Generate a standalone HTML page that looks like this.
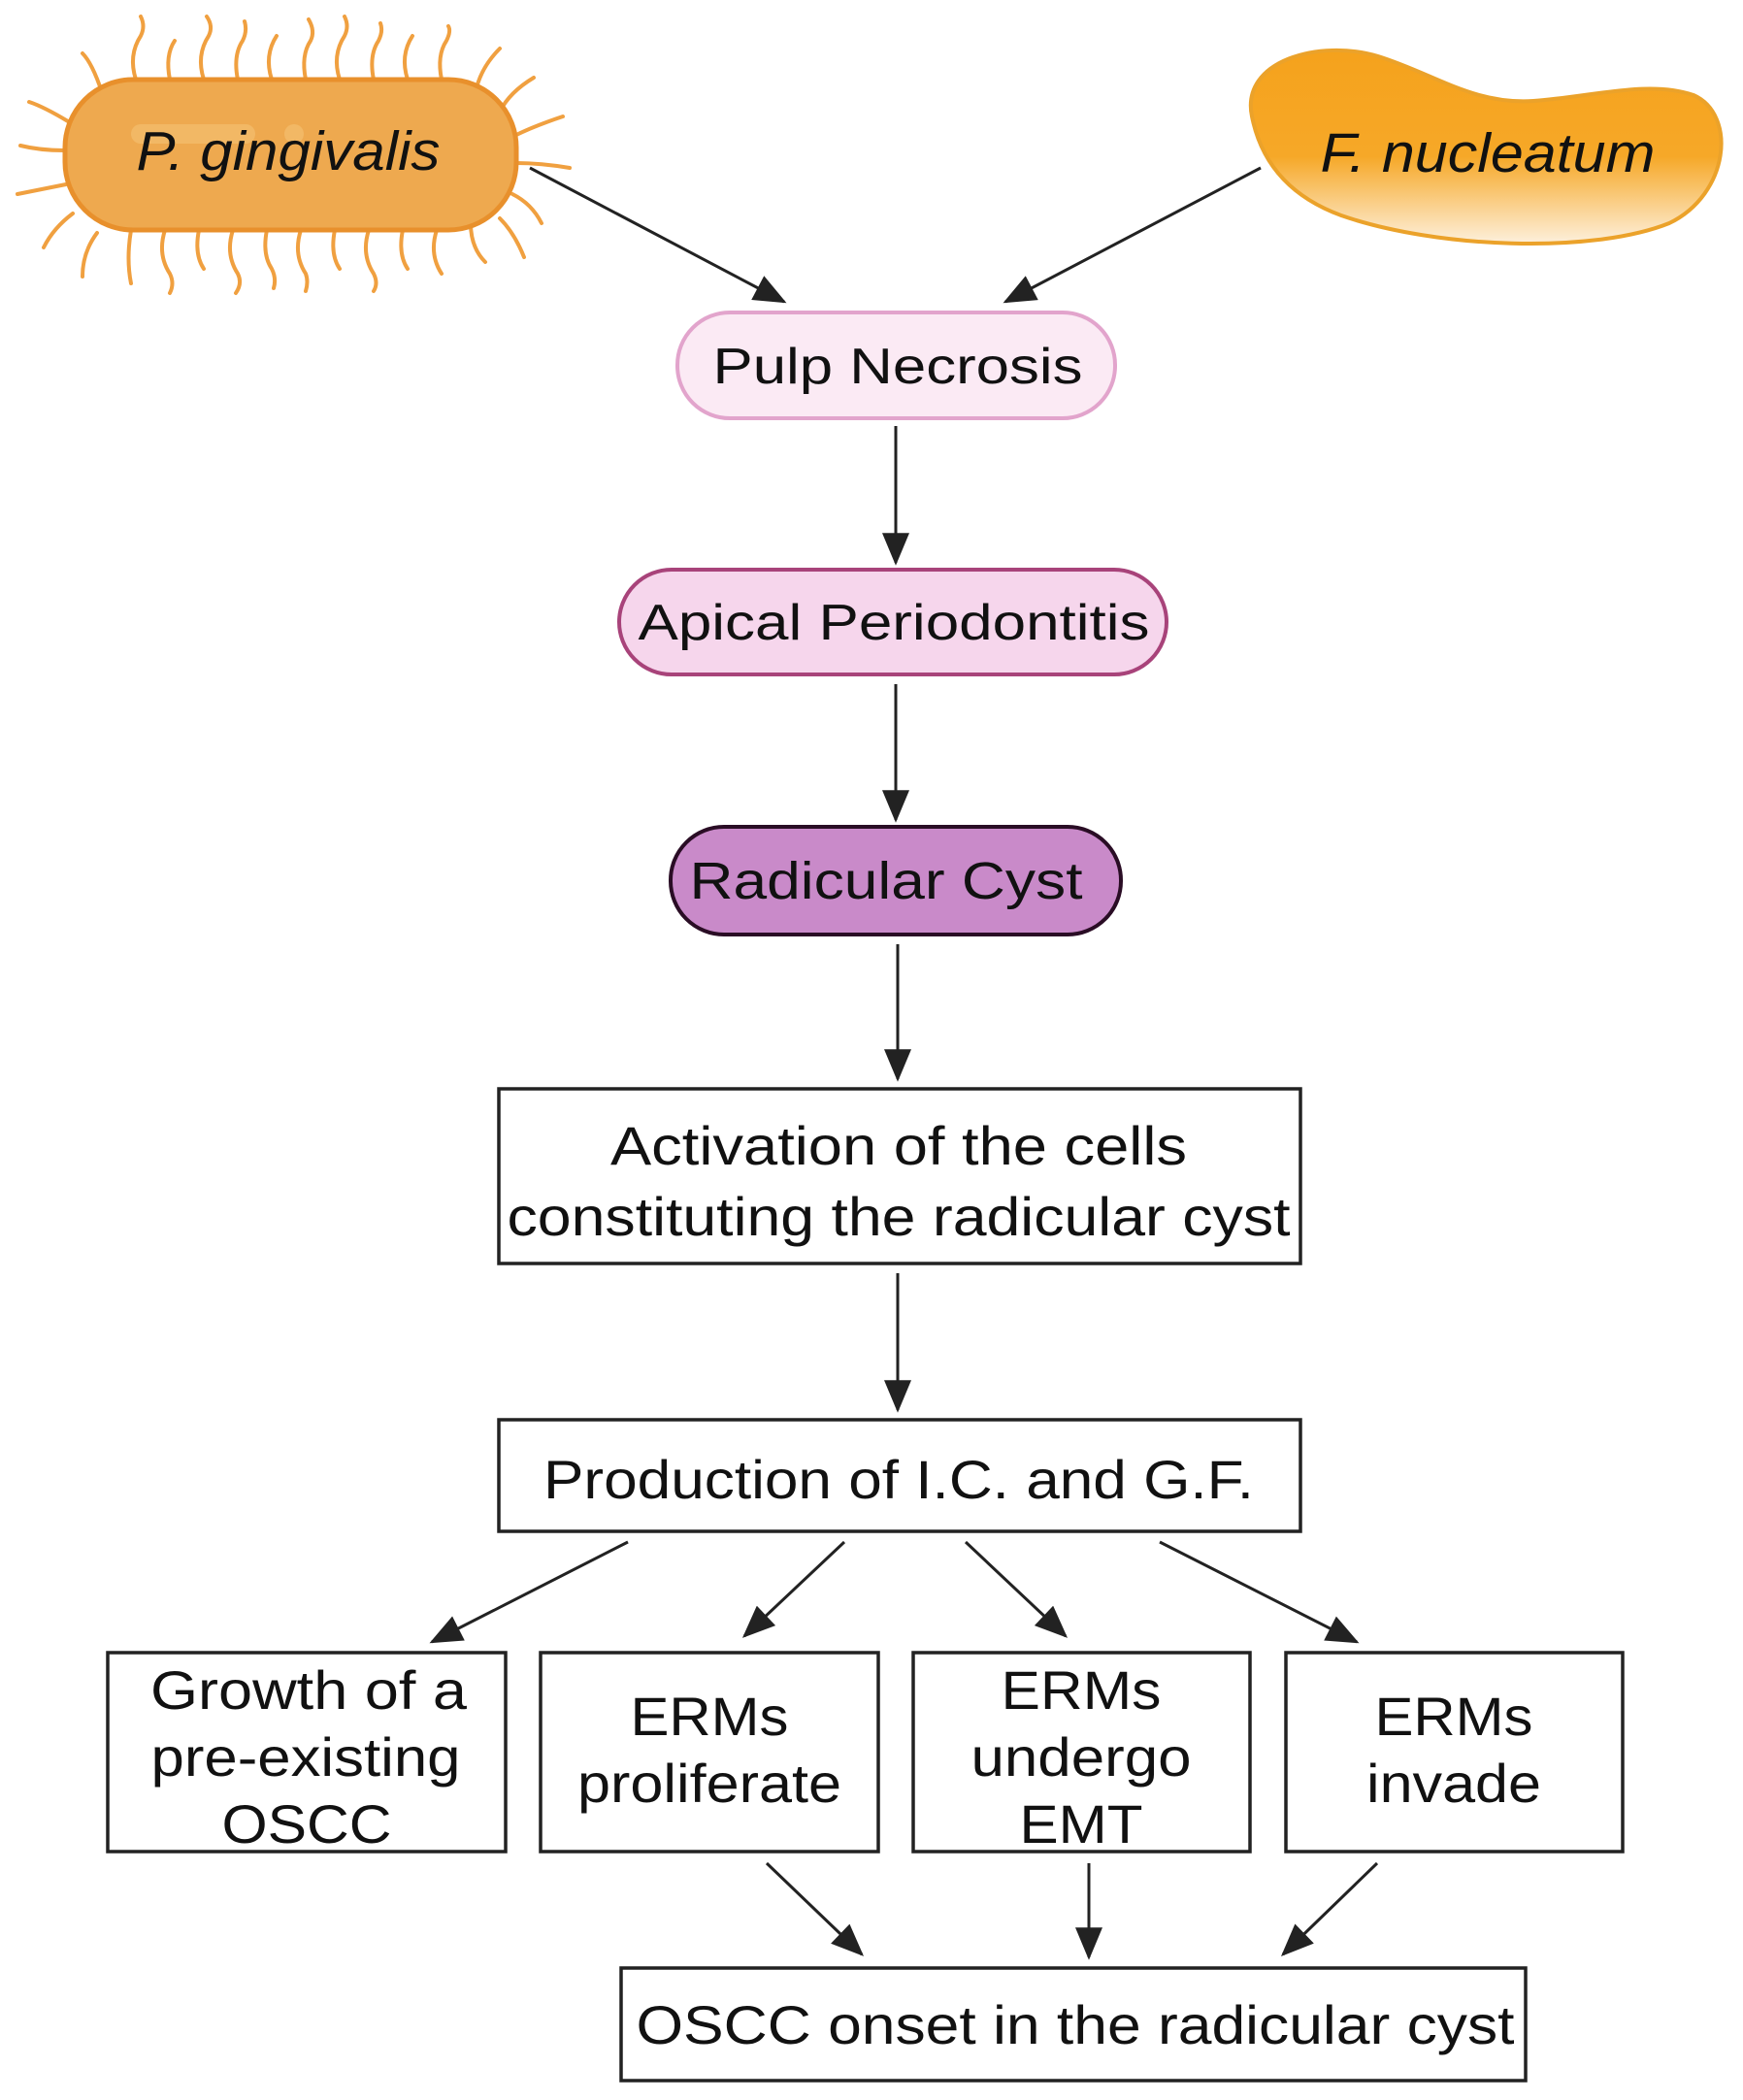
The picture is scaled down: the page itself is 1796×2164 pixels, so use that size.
<!DOCTYPE html>
<html><head><meta charset="utf-8"><style>
html,body{margin:0;padding:0;background:#fff;}
svg{display:block;}
text{font-family:"Liberation Sans",Arial,sans-serif;fill:#111;}
</style></head><body>
<svg width="1796" height="2164" viewBox="0 0 1796 2164" xmlns="http://www.w3.org/2000/svg">
<defs>
<marker id="ah" markerWidth="10" markerHeight="10" refX="9" refY="5" orient="auto" markerUnits="userSpaceOnUse" viewBox="0 0 10 10">
</marker>
<linearGradient id="fg" x1="0" y1="0" x2="0" y2="1">
<stop offset="0" stop-color="#f5a21c"/><stop offset="0.55" stop-color="#f6a828"/><stop offset="1" stop-color="#fdf0dc"/>
</linearGradient>
<marker id="a" viewBox="0 0 12 10" refX="11" refY="5" markerWidth="34" markerHeight="28" markerUnits="userSpaceOnUse" orient="auto">
<path d="M0,0 L12,5 L0,10 Z" fill="#222"/>
</marker>
</defs>

<!-- P. gingivalis pili -->
<g stroke="#f0a040" stroke-width="4" fill="none" stroke-linecap="round">
<path d="M105,95 q-10,-30 -20,-40"/>
<path d="M140,82 q-8,-25 5,-45 q5,-10 0,-20"/>
<path d="M175,82 q-5,-25 5,-40"/>
<path d="M210,82 q-8,-25 5,-45 q5,-10 -2,-20"/>
<path d="M245,82 q-5,-25 5,-40 q5,-10 2,-20"/>
<path d="M280,82 q-8,-25 5,-45"/>
<path d="M315,82 q-5,-25 5,-40 q5,-10 -2,-22"/>
<path d="M350,82 q-8,-25 5,-45 q5,-10 0,-20"/>
<path d="M385,82 q-5,-25 5,-40 q5,-10 2,-18"/>
<path d="M420,82 q-8,-25 5,-45"/>
<path d="M455,82 q-5,-25 5,-40 q5,-10 2,-15"/>
<path d="M490,95 q5,-25 25,-45"/>
<path d="M515,115 q10,-20 35,-35"/>
<path d="M530,140 q20,-10 50,-20"/>
<path d="M532,168 q25,0 55,5"/>
<path d="M528,200 q20,10 30,30"/>
<path d="M515,225 q15,15 25,40"/>
<path d="M70,125 q-25,-15 -40,-20"/>
<path d="M66,155 q-25,0 -45,-5"/>
<path d="M68,190 q-25,5 -50,10"/>
<path d="M75,220 q-20,15 -30,35"/>
<path d="M100,240 q-15,20 -15,45"/>
<path d="M135,237 q-5,30 0,55"/>
<path d="M170,237 q-8,25 5,45 q5,10 0,20"/>
<path d="M205,237 q-5,25 5,40"/>
<path d="M240,237 q-8,25 5,45 q5,10 -2,20"/>
<path d="M275,237 q-5,25 5,40 q5,10 2,20"/>
<path d="M310,237 q-8,25 5,45 q3,8 0,18"/>
<path d="M345,237 q-5,25 5,40"/>
<path d="M380,237 q-8,25 5,45 q5,10 0,18"/>
<path d="M415,237 q-5,25 5,40"/>
<path d="M450,237 q-8,25 5,45"/>
<path d="M485,230 q0,25 15,40"/>
</g>
<rect x="67" y="82" width="465" height="155" rx="70" fill="#eea94f" stroke="#e8902c" stroke-width="5"/>
<rect x="135" y="128" width="128" height="20" rx="10" fill="#f2b865"/>
<circle cx="303" cy="138" r="10" fill="#f2b865"/>
<text x="297" y="175" font-size="57" font-style="italic" text-anchor="middle" textLength="313" lengthAdjust="spacingAndGlyphs">P. gingivalis</text>

<!-- F. nucleatum -->
<path d="M1290,120 C1278,62 1360,40 1420,58 C1478,76 1518,108 1580,104 C1640,100 1698,82 1745,98 C1790,118 1782,200 1720,230 C1640,262 1480,256 1382,222 C1322,200 1298,160 1290,120 Z" fill="url(#fg)" stroke="#eba22a" stroke-width="4"/>
<text x="1533" y="177" font-size="57" font-style="italic" text-anchor="middle" textLength="345" lengthAdjust="spacingAndGlyphs">F. nucleatum</text>

<!-- arrows -->
<g stroke="#222" stroke-width="3" fill="none" marker-end="url(#a)">
<line x1="546" y1="173" x2="808" y2="311"/>
<line x1="1299" y1="173" x2="1036" y2="311"/>
<line x1="923" y1="439" x2="923" y2="580"/>
<line x1="923" y1="705" x2="923" y2="845"/>
<line x1="925" y1="973" x2="925" y2="1112"/>
<line x1="925" y1="1312" x2="925" y2="1453"/>
<line x1="647" y1="1589" x2="445" y2="1692"/>
<line x1="870" y1="1589" x2="767" y2="1686"/>
<line x1="995" y1="1589" x2="1098" y2="1686"/>
<line x1="1195" y1="1589" x2="1398" y2="1692"/>
<line x1="790" y1="1920" x2="888" y2="2014"/>
<line x1="1122" y1="1920" x2="1122" y2="2017"/>
<line x1="1419" y1="1920" x2="1322" y2="2014"/>
</g>

<!-- pills -->
<rect x="698" y="322" width="451" height="109" rx="54" fill="#fbeaf4" stroke="#e2a4cc" stroke-width="4"/>
<text x="925" y="395" font-size="52" text-anchor="middle" textLength="381" lengthAdjust="spacingAndGlyphs">Pulp Necrosis</text>
<rect x="638" y="587" width="564" height="108" rx="54" fill="#f6d6ec" stroke="#a8437a" stroke-width="4"/>
<text x="921" y="659" font-size="52" text-anchor="middle" textLength="527" lengthAdjust="spacingAndGlyphs">Apical Periodontitis</text>
<rect x="691" y="852" width="464" height="111" rx="55" fill="#c98ac9" stroke="#2a0d25" stroke-width="4"/>
<text x="913" y="926" font-size="54" text-anchor="middle" textLength="405" lengthAdjust="spacingAndGlyphs">Radicular Cyst</text>

<!-- boxes -->
<g fill="#fff" stroke="#222" stroke-width="3.5">
<rect x="514" y="1122" width="826" height="180"/>
<rect x="514" y="1463" width="826" height="115"/>
<rect x="111" y="1703" width="410" height="205"/>
<rect x="557" y="1703" width="348" height="205"/>
<rect x="941" y="1703" width="347" height="205"/>
<rect x="1325" y="1703" width="347" height="205"/>
<rect x="640" y="2028" width="932" height="116"/>
</g>
<g font-size="56" text-anchor="middle">
<text x="926" y="1200" textLength="594" lengthAdjust="spacingAndGlyphs">Activation of  the cells</text>
<text x="926" y="1273" textLength="807" lengthAdjust="spacingAndGlyphs">constituting the radicular cyst</text>
<text x="926" y="1544" textLength="732" lengthAdjust="spacingAndGlyphs">Production of  I.C. and G.F.</text>
<text x="318" y="1761" textLength="326" lengthAdjust="spacingAndGlyphs">Growth of  a</text>
<text x="315" y="1830" textLength="319" lengthAdjust="spacingAndGlyphs">pre-existing</text>
<text x="316" y="1899" textLength="175" lengthAdjust="spacingAndGlyphs">OSCC</text>
<text x="731" y="1788" textLength="163" lengthAdjust="spacingAndGlyphs">ERMs</text>
<text x="731" y="1857" textLength="272" lengthAdjust="spacingAndGlyphs">proliferate</text>
<text x="1114" y="1761" textLength="165" lengthAdjust="spacingAndGlyphs">ERMs</text>
<text x="1114" y="1830" textLength="227" lengthAdjust="spacingAndGlyphs">undergo</text>
<text x="1114" y="1899" textLength="127" lengthAdjust="spacingAndGlyphs">EMT</text>
<text x="1498" y="1788" textLength="163" lengthAdjust="spacingAndGlyphs">ERMs</text>
<text x="1498" y="1857" textLength="180" lengthAdjust="spacingAndGlyphs">invade</text>
<text x="1108" y="2106" textLength="905" lengthAdjust="spacingAndGlyphs">OSCC onset in the radicular cyst</text>
</g>
</svg>
</body></html>
